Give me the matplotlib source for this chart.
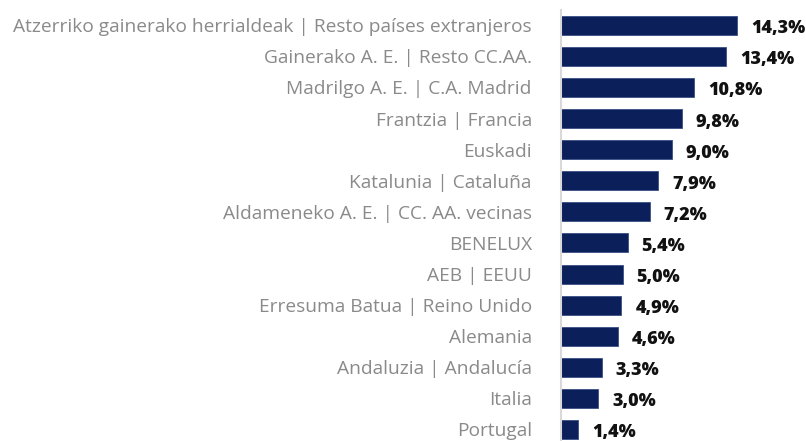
import matplotlib.pyplot as plt

# 데이터
categories = [
    'Atzerriko gainerako herrialdeak | Resto países extranjeros',
    'Gainerako A. E. | Resto CC.AA.',
    'Madrilgo A. E. | C.A. Madrid',
    'Frantzia | Francia',
    'Euskadi',
    'Katalunia | Cataluña',
    'Aldameneko A. E. | CC. AA. vecinas',
    'BENELUX',
    'AEB | EEUU',
    'Erresuma Batua | Reino Unido',
    'Alemania',
    'Andaluzia | Andalucía',
    'Italia',
    'Portugal',
]
values = [14.3, 13.4, 10.8, 9.8, 9.0, 7.9, 7.2, 5.4, 5.0, 4.9, 4.6, 3.3, 3.0, 1.4]
value_labels = ['14,3%', '13,4%', '10,8%', '9,8%', '9,0%', '7,9%', '7,2%',
                '5,4%', '5,0%', '4,9%', '4,6%', '3,3%', '3,0%', '1,4%']

plt.rcParams['font.family'] = ['Open Sans', 'DejaVu Sans']

W, H = 806, 441
fig = plt.figure(figsize=(W / 100, H / 100), dpi=100)
ax = fig.add_axes([561 / W, 0, (795 - 561) / W, 431 / H])

pos = list(range(len(values)))
ax.barh(pos, values, height=0.61, color='#0b1f5b', edgecolor='#3a4f85', linewidth=0.6)

ax.set_xlim(0, 19)
ax.set_ylim(13.37, -0.492)

ax.set_yticks(pos)
ax.set_yticklabels(categories, fontsize=13.8, color='#8a8a8a')
ax.tick_params(axis='y', length=0, pad=21)
ax.set_xticks([])

for s in ['top', 'right', 'bottom']:
    ax.spines[s].set_visible(False)
ax.spines['left'].set_color('#d9d9d9')
ax.spines['left'].set_linewidth(1.5)

for p, v, lab in zip(pos, values, value_labels):
    ax.annotate(lab, (v, p), xytext=(14, -3.5), textcoords='offset pixels',
                ha='left', va='center', fontsize=13, fontweight='heavy', color='#111111')

fig.savefig('out.png', dpi=100)
